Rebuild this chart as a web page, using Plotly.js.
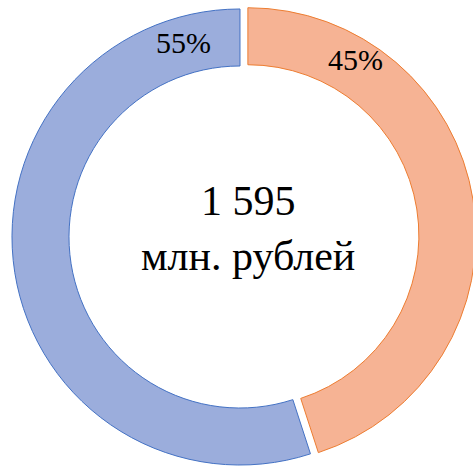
<!DOCTYPE html>
<html>
<head>
<meta charset="utf-8">
<script src="https://cdn.plot.ly/plotly-3.0.1.min.js"></script>
<style>
html,body{margin:0;padding:0;overflow:hidden;background:#fff;width:473px;height:466px;}
#chart{position:absolute;left:0;top:0;width:480px;height:474px;}
</style>
</head>
<body>
<div id="chart"></div>
<script>
const categories = ["Часть 1", "Часть 2"];
const shares = [45, 55];
const totalValue = "1 595";
const unitLabel = "млн. рублей";

const fillColors = ["#F6B394", "#9BADDC"];
const lineColors = ["#ED7D31", "#4472C4"];

const trace = {
  type: "pie",
  labels: categories,
  values: shares,
  sort: false,
  direction: "clockwise",
  rotation: 0,
  hole: 0.75,
  pull: [0.035, 0],
  textinfo: "none",
  hoverinfo: "none",
  marker: {colors: fillColors, line: {color: lineColors, width: 1}},
  showlegend: false
};

const serif = "Liberation Serif";

const layout = {
  width: 480,
  height: 474,
  margin: {l: 4, r: 4, t: 1, b: 1, pad: 0},
  paper_bgcolor: "#fff",
  showlegend: false,
  font: {family: serif, color: "#000"},
  annotations: [
    {text: shares[1] + "%", x: 0.381, y: 0.912, xref: "paper", yref: "paper",
     showarrow: false, xanchor: "center", yanchor: "middle", font: {family: serif, size: 30, color: "#000"}},
    {text: shares[0] + "%", x: 0.744, y: 0.877, xref: "paper", yref: "paper",
     showarrow: false, xanchor: "center", yanchor: "middle", font: {family: serif, size: 30, color: "#000"}},
    {text: totalValue + "<br>" + unitLabel, x: 0.518, y: 0.518, xref: "paper", yref: "paper",
     showarrow: false, xanchor: "center", yanchor: "middle", font: {family: serif, size: 42, color: "#000"}}
  ]
};

Plotly.newPlot("chart", [trace], layout, {staticPlot: true, displayModeBar: false});
</script>
</body>
</html>
